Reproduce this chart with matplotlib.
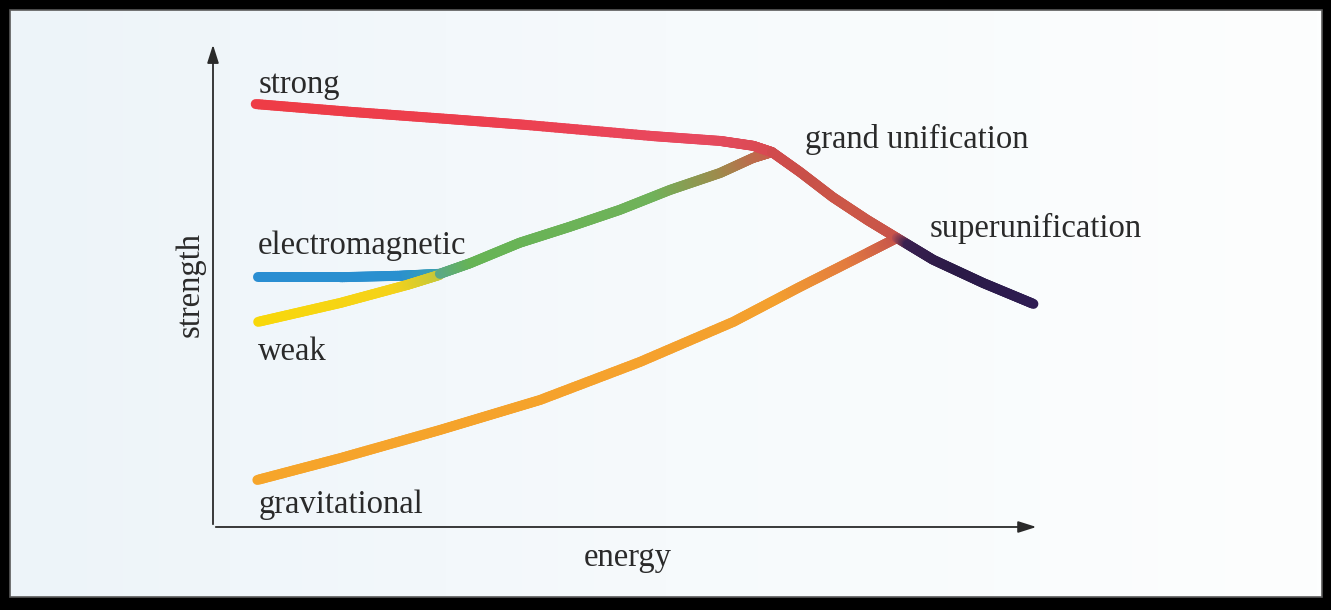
import numpy as np
import matplotlib.pyplot as plt
from matplotlib.collections import LineCollection
from matplotlib.colors import LinearSegmentedColormap
from matplotlib.patches import Rectangle

plt.rcParams['font.family'] = ['Liberation Serif', 'DejaVu Serif']

# Curves (energy, strength), axes run 0..10
strong_e = [0.52, 1.67, 2.88, 3.81, 5.35, 6.17, 6.57, 6.80]
strong_s = [8.72, 8.56, 8.41, 8.29, 8.06, 7.96, 7.86, 7.73]

em_e = [0.55, 1.55, 2.27, 2.76]
em_s = [5.15, 5.15, 5.18, 5.22]

weak_e = [0.55, 1.55, 2.36, 2.76]
weak_s = [4.23, 4.62, 4.99, 5.20]

electroweak_e = [2.76, 3.13, 3.73, 4.34, 4.95, 5.56, 6.17, 6.57, 6.80]
electroweak_s = [5.22, 5.44, 5.86, 6.19, 6.54, 6.95, 7.30, 7.61, 7.73]

grand_e = [6.80, 7.14, 7.54, 7.96, 8.32]
grand_s = [7.73, 7.32, 6.80, 6.33, 5.96]

grav_e = [0.54, 1.55, 2.76, 3.98, 5.19, 6.33, 7.14, 7.96, 8.32]
grav_s = [0.97, 1.42, 2.00, 2.62, 3.40, 4.23, 4.95, 5.65, 5.96]

super_e = [8.32, 8.76, 9.37, 9.98]
super_s = [5.96, 5.51, 5.03, 4.60]

LW = 7.2


def gradient_line(ax, xs, ys, colors, lw=LW, steps=30):
    # split each straight piece so the colour can fade along it
    xs = np.asarray(xs, float)
    ys = np.asarray(ys, float)
    px, py = [xs[0]], [ys[0]]
    for i in range(len(xs) - 1):
        t = np.linspace(0, 1, steps + 1)[1:]
        px.extend(xs[i] + (xs[i + 1] - xs[i]) * t)
        py.extend(ys[i] + (ys[i + 1] - ys[i]) * t)
    px, py = np.array(px), np.array(py)
    d = np.r_[0, np.cumsum(np.hypot(np.diff(px), np.diff(py * 1.7)))]
    d = d / d[-1]
    cmap = LinearSegmentedColormap.from_list('g', colors)
    pts = np.column_stack([px, py]).reshape(-1, 1, 2)
    segs = np.concatenate([pts[:-1], pts[1:]], axis=1)
    mid = (d[:-1] + d[1:]) / 2
    lc = LineCollection(segs, colors=cmap(mid), linewidths=lw,
                        capstyle='round', joinstyle='round', clip_on=False)
    ax.add_collection(lc)


fig = plt.figure(figsize=(13.31, 6.10), dpi=100, facecolor='black')

# light panel inside the black frame
bg = fig.add_axes([0.0075, 0.0213, 0.9857, 0.9623])
grad = np.linspace(0, 1, 256).reshape(1, -1)
bg.imshow(grad, aspect='auto', extent=[0, 1, 0, 1],
          cmap=LinearSegmentedColormap.from_list('bg', ['#edf4f9', '#f6fafc', '#fdfefe']))
bg.set_xlim(0, 1)
bg.set_ylim(0, 1)
bg.axis('off')
fig.patches.append(Rectangle((0.0075, 0.0213), 0.9857, 0.9623, transform=fig.transFigure,
                             fill=False, edgecolor='#5a5a5a', lw=1.2))

ax = fig.add_axes([0.16003, 0.13607, 0.6176, 0.7951])
ax.set_xlim(0, 10)
ax.set_ylim(0, 10)
ax.axis('off')

axis_col = '#2a2a2a'
ax.annotate('', xy=(0, 10), xytext=(0, 0),
            arrowprops=dict(arrowstyle='-|>,head_length=1.1,head_width=0.35', color=axis_col, lw=1.3),
            annotation_clip=False)
ax.annotate('', xy=(10.05, 0), xytext=(0, 0),
            arrowprops=dict(arrowstyle='-|>,head_length=1.1,head_width=0.35', color=axis_col, lw=1.3),
            annotation_clip=False)

gradient_line(ax, em_e, em_s, [(0, '#2a8ed2'), (0.8, '#2a90cf'), (1, '#3aa0b0')])
gradient_line(ax, weak_e, weak_s, [(0, '#f8d80a'), (0.75, '#f5d21a'), (1, '#c8c838')])
gradient_line(ax, electroweak_e, electroweak_s,
              [(0, '#5aa88a'), (0.1, '#66b455'), (0.65, '#70b25a'),
               (0.85, '#a08a4c'), (1, '#c8604c')])
gradient_line(ax, grav_e, grav_s,
              [(0, '#f6a52a'), (0.78, '#f4a02e'), (0.92, '#e27a40'), (1, '#c9584a')])
gradient_line(ax, strong_e, strong_s,
              [(0, '#ee3c46'), (0.5, '#ec4050'), (0.85, '#e84a60'), (1, '#d84a52')])
gradient_line(ax, grand_e, grand_s, ['#d24a4e', '#c85048', '#cc5848', '#c8544a'])
gradient_line(ax, super_e, super_s,
              [(0, '#b84e50'), (0.1, '#3a2050'), (0.5, '#2a1a46'), (1, '#2e1c52')])

txt = dict(fontsize=23.5, color='#2a2a2a', va='baseline')
ax.text(0.55, 8.95, 'strong', ha='left', **txt)
ax.text(0.55, 5.63, 'electromagnetic', ha='left', **txt)
ax.text(0.55, 3.44, 'weak', ha='left', **txt)
ax.text(0.55, 0.29, 'gravitational', ha='left', **txt)
ax.text(7.20, 7.81, 'grand unification', ha='left', **txt)
ax.text(8.72, 5.98, 'superunification', ha='left', **txt)
ax.text(5.05, -0.80, 'energy', ha='center', clip_on=False, **txt)
ax.text(-0.28, 4.99, 'strength', ha='center', va='center', rotation=90,
        fontsize=23.5, color='#2a2a2a')

fig.savefig('out.png', dpi=100, facecolor='black')
